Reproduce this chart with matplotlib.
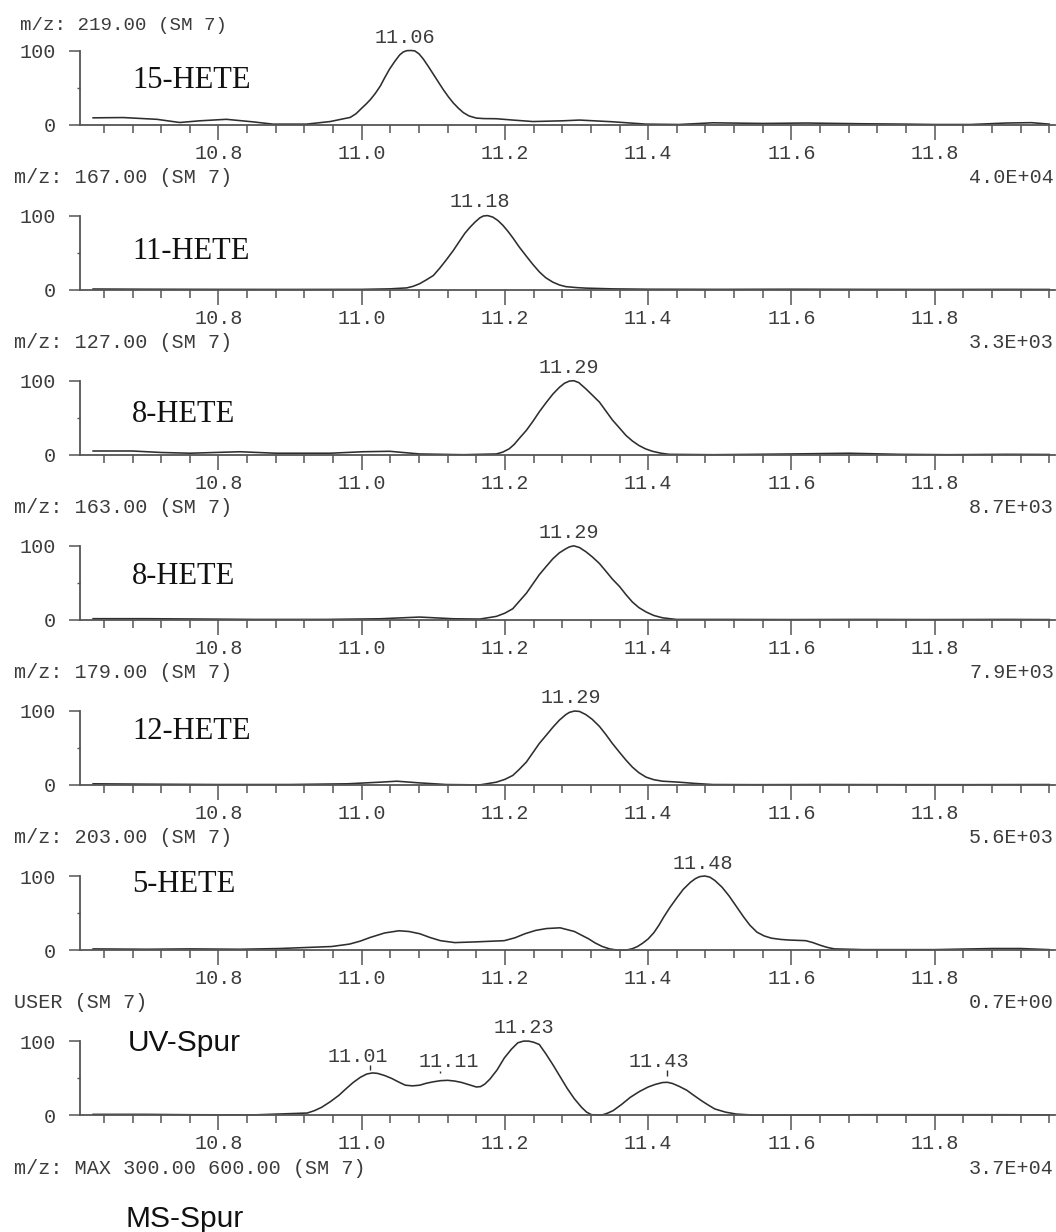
import matplotlib
matplotlib.use("Agg")
import matplotlib.pyplot as plt
from matplotlib.ticker import MultipleLocator, FixedLocator, FormatStrFormatter

# ---------------- data ----------------
headers = ["m/z: 219.00 (SM 7)", "m/z: 167.00 (SM 7)", "m/z: 127.00 (SM 7)",
           "m/z: 163.00 (SM 7)", "m/z: 179.00 (SM 7)", "m/z: 203.00 (SM 7)",
           "USER (SM 7)", "m/z: MAX 300.00 600.00 (SM 7)"]
scales = ["4.0E+04", "3.3E+03", "8.7E+03", "7.9E+03", "5.6E+03", "0.7E+00", "3.7E+04"]
names = ["15-HETE", "11-HETE", "8-HETE", "8-HETE", "12-HETE", "5-HETE", "UV-Spur"]
name_y = [59, 51, 54, 59, 72, 88, 97]

x0 = [10.625, 10.667, 10.714, 10.746, 10.774, 10.811, 10.848, 10.876, 10.923, 10.956, 10.984,
      10.992, 11.0, 11.006, 11.012, 11.019, 11.026, 11.032, 11.039, 11.046, 11.053, 11.058,
      11.063, 11.069, 11.074, 11.08, 11.086, 11.093, 11.1, 11.107, 11.114, 11.121, 11.128,
      11.135, 11.142, 11.15, 11.16, 11.17, 11.188, 11.211, 11.239, 11.281, 11.304, 11.35,
      11.397, 11.443, 11.49, 11.56, 11.62, 11.7, 11.76, 11.8, 11.85, 11.9, 11.935, 11.96]
y0 = [9, 9.4, 7, 2.7, 5, 7, 3.6, 0.5, 0.5, 4, 9.6,
      14.5, 22, 27.5, 33.5, 42, 52, 63, 75, 85, 94, 98,
      99.8, 100, 99.5, 95.5, 88.5, 78.5, 68, 57.5, 47, 37.5, 29,
      22, 16, 11.5, 8.7, 8, 7.8, 6, 4, 5, 6, 3.7,
      0.5, 0, 2.3, 1.4, 2, 1, 0.5, 0, 0, 2, 2.5, 0.5]

x1 = [10.625, 10.7, 10.8, 10.9, 11.0, 11.039, 11.063, 11.072, 11.081, 11.09, 11.1, 11.109,
      11.118, 11.128, 11.137, 11.144, 11.151, 11.158, 11.165, 11.17, 11.176, 11.183, 11.19,
      11.197, 11.204, 11.211, 11.22, 11.23, 11.239, 11.248, 11.257, 11.267, 11.276, 11.285,
      11.3, 11.313, 11.35, 11.4, 11.5, 11.6, 11.7, 11.8, 11.9, 11.96]
y1 = [0.8, 0.5, 0.3, 0.2, 0.3, 1, 2.3, 4.5, 8, 13, 19, 29,
      40, 53, 66, 76, 84, 91, 97, 99.5, 100, 98, 93.5,
      87, 79, 70, 57.5, 45, 34, 24, 16, 10, 6.3, 4,
      2.7, 2, 1, 0.5, 0.3, 0.5, 0.3, 0.2, 0.3, 0.2]

x2 = [10.625, 10.68, 10.72, 10.76, 10.83, 10.88, 10.956, 11.002, 11.039, 11.081, 11.142, 11.188,
      11.197, 11.206, 11.213, 11.22, 11.23, 11.239, 11.248, 11.258, 11.267, 11.276, 11.283,
      11.29, 11.296, 11.303, 11.313, 11.322, 11.332, 11.341, 11.35, 11.36, 11.369, 11.378,
      11.387, 11.396, 11.406, 11.418, 11.429, 11.49, 11.55, 11.6, 11.68, 11.75, 11.82, 11.9,
      11.96]
y2 = [5, 5, 3, 2, 4, 2, 2, 4, 4.6, 1, 0, 1,
      3.5, 8, 14, 22, 33, 45, 58, 71, 82, 91, 96.5,
      99.5, 100, 97.5, 89, 80.5, 71, 59, 47, 36, 26, 18.5,
      12.5, 8, 4.6, 2, 0.5, 0, 0.5, 1, 2, 0.5, 0, 0.5,
      0.3]

x3 = [10.625, 10.7, 10.78, 10.85, 10.95, 11.026, 11.081, 11.128, 11.165, 11.188, 11.2, 11.211,
      11.22, 11.23, 11.239, 11.248, 11.258, 11.267, 11.276, 11.285, 11.29, 11.296, 11.304,
      11.313, 11.322, 11.332, 11.341, 11.35, 11.36, 11.369, 11.378, 11.387, 11.397, 11.408,
      11.42, 11.439, 11.5, 11.6, 11.7, 11.8, 11.9, 11.96]
y3 = [1.5, 1.5, 1, 0.5, 0.5, 1.4, 3.7, 1.4, 1, 4.6, 9, 15,
      25, 36, 48.5, 61, 72.5, 82.6, 90.5, 96, 98.5, 100, 97.7,
      92, 85, 76, 65.6, 55, 45, 34, 24, 16.5, 10.6, 5.8,
      2.7, 0.5, 0.5, 0.3, 0.5, 0.3, 0.5, 0.3]

x4 = [10.625, 10.7, 10.8, 10.9, 10.98, 11.026, 11.049, 11.081, 11.118, 11.165, 11.188, 11.2,
      11.211, 11.22, 11.23, 11.239, 11.248, 11.258, 11.267, 11.276, 11.285, 11.29, 11.297,
      11.304, 11.313, 11.322, 11.332, 11.341, 11.35, 11.36, 11.369, 11.378, 11.387, 11.397,
      11.408, 11.42, 11.443, 11.465, 11.49, 11.55, 11.65, 11.75, 11.85, 11.96]
y4 = [1.5, 1, 0.5, 0.5, 1.5, 3.7, 5, 2.7, 0.5, 0, 3.7, 7.5,
      12.8, 21, 31, 43.5, 56, 67.5, 78, 87.5, 95, 98, 99.8,
      99.3, 95, 88.5, 79, 68, 56, 44, 33.5, 24, 16.5, 10.5,
      7, 5, 3.7, 2, 0.5, 0.3, 0.5, 0.3, 0.3, 0.5]

x5 = [10.625, 10.7, 10.76, 10.83, 10.885, 10.958, 10.983, 10.998, 11.012, 11.032, 11.052, 11.066,
      11.081, 11.095, 11.11, 11.13, 11.16, 11.199, 11.214, 11.228, 11.243, 11.258, 11.277,
      11.297, 11.307, 11.317, 11.326, 11.336, 11.346, 11.356, 11.37, 11.378, 11.385, 11.392,
      11.4, 11.408, 11.415, 11.422, 11.43, 11.44, 11.449, 11.459, 11.466, 11.472, 11.479,
      11.486, 11.493, 11.503, 11.513, 11.523, 11.533, 11.542, 11.552, 11.562, 11.572, 11.585,
      11.596, 11.62, 11.63, 11.64, 11.65, 11.66, 11.7, 11.8, 11.88, 11.92, 11.96]
y5 = [1.5, 1, 1.5, 1, 2, 4.7, 8, 12, 17, 23, 26, 25,
      22, 17, 12.6, 10, 11, 12.6, 16.5, 22, 26.5, 29, 30,
      25, 20, 15, 9.5, 4.7, 1.5, 0, 0, 1.8, 4.7, 9,
      15, 23.5, 33.5, 45, 57, 70.5, 82, 91.5, 96.5, 99.2, 100,
      98.5, 94, 85, 73, 59, 45, 33.5, 24, 19, 16, 14.3,
      13.5, 12.6, 10, 6.5, 3.5, 1.5, 0.5, 0.5, 2, 2, 0.5]

x6 = [10.625, 10.7, 10.76, 10.85, 10.924, 10.934, 10.944, 10.956, 10.968, 10.978, 10.988, 10.998,
      11.007, 11.015, 11.022, 11.032, 11.042, 11.052, 11.061, 11.071, 11.081, 11.09, 11.1,
      11.11, 11.12, 11.13, 11.14, 11.15, 11.16, 11.166, 11.172, 11.179, 11.189, 11.199,
      11.209, 11.218, 11.226, 11.233, 11.24, 11.248, 11.257, 11.267, 11.277, 11.287, 11.297,
      11.307, 11.314, 11.321, 11.336, 11.343, 11.351, 11.363, 11.375, 11.388, 11.4, 11.41,
      11.42, 11.427, 11.434, 11.444, 11.454, 11.464, 11.474, 11.484, 11.493, 11.508, 11.523,
      11.548, 11.6, 11.7, 11.8, 11.9, 11.96]
y6 = [1, 1, 0.5, 0.3, 2.8, 6, 10.5, 18, 26.6, 35.5, 44, 51,
      55.5, 57, 56.4, 53.5, 49.5, 44.5, 40.4, 39.5, 40.4, 43, 45,
      46.5, 47, 46, 44, 41, 38, 38.5, 42, 48.6, 61, 77,
      89, 97.7, 100, 100, 98.5, 95.4, 83, 68, 52, 36, 22,
      10.5, 4, 0.5, 0.3, 2.5, 6, 14.5, 24, 32, 38, 41.5,
      44, 44.3, 42.7, 38.5, 33.5, 26.5, 19.7, 13.5, 8.3, 4, 1.4,
      0, 0, 0.5, 0.5, 0.5, 0.3]

series_x = [x0, x1, x2, x3, x4, x5, x6]
series_y = [y0, y1, y2, y3, y4, y5, y6]

# peak labels: text, x position, y position
peak_text = [["11.06"], ["11.18"], ["11.29"], ["11.29"], ["11.29"], ["11.48"],
             ["11.01", "11.11", "11.23", "11.43"]]
peak_x = [[11.06], [11.165], [11.29], [11.29], [11.292], [11.477],
          [10.995, 11.122, 11.227, 11.415]]
peak_y = [[118], [119], [118.5], [118], [118], [117],
          [79, 72.5, 118, 72.5]]
# small marker ticks above UV peaks
mark_x = [11.011, 11.11, 11.426]
mark_lo = [61, 57, 53]
mark_hi = [68, 60, 61]

x_major = [10.8, 11.0, 11.2, 11.4, 11.6, 11.8]

# ---------------- figure ----------------
W, H = 1056, 1232
fig = plt.figure(figsize=(W / 100, H / 100), dpi=100)
fig.patch.set_facecolor("white")

MONO = ["Liberation Mono", "DejaVu Sans Mono"]
SERIF = ["Liberation Serif", "DejaVu Serif"]
SANS = ["Liberation Sans", "DejaVu Sans"]
TXT = "#3c3c3c"
AX = "#555555"
LINE = "#2e2e2e"
MS = 14.5


def fx(px):
    return px / W


def fy(py):
    return 1 - py / H


left_px, right_px = 79.5, 1055.0
base0, step, hgt = 124.5, 165.1, 74.0

for k in range(7):
    b = base0 + step * k
    ax = fig.add_axes([fx(left_px), fy(b), (right_px - left_px) / W, hgt / H])
    ax.set_xlim(10.606, 11.968)
    ax.set_ylim(0, 100)
    ax.set_facecolor("none")
    for s in ("top", "right"):
        ax.spines[s].set_visible(False)
    for s in ("left", "bottom"):
        ax.spines[s].set_color(AX)
        ax.spines[s].set_linewidth(1.3)
    ax.xaxis.set_major_locator(FixedLocator(x_major))
    ax.xaxis.set_minor_locator(MultipleLocator(0.04))
    ax.xaxis.set_major_formatter(FormatStrFormatter("%.1f"))
    ax.yaxis.set_major_locator(FixedLocator([0, 100]))
    ax.yaxis.set_minor_locator(FixedLocator([50]))
    ax.tick_params(axis="x", which="major", direction="out", length=10.8, width=1.1,
                   color=AX, pad=3, labelsize=MS, labelcolor=TXT)
    ax.tick_params(axis="x", which="minor", direction="out", length=5.8, width=1.1, color=AX)
    ax.tick_params(axis="y", which="major", direction="out", length=8, width=1.1,
                   color=AX, pad=9, labelsize=MS, labelcolor=TXT)
    ax.tick_params(axis="y", which="minor", direction="out", length=2.5, width=1.0, color=AX)
    for lab in ax.get_xticklabels() + ax.get_yticklabels():
        lab.set_family(MONO)

    ax.plot(series_x[k], series_y[k], color=LINE, lw=1.15, clip_on=False,
            solid_joinstyle="round")

    for t, px_, py_ in zip(peak_text[k], peak_x[k], peak_y[k]):
        ax.text(px_, py_, t, ha="center", va="center", fontsize=MS, family=MONO,
                color=TXT, clip_on=False)
    if k == 6:
        ax.vlines(mark_x, mark_lo, mark_hi, color=LINE, lw=1.0, clip_on=False)

    # compound label
    if k < 6:
        fig.text(fx(132), fy(b - name_y[k] / 100 * hgt), names[k], ha="left", va="center",
                 fontsize=22, family=SERIF, color="#111111")
    else:
        fig.text(fx(128), fy(b - name_y[k] / 100 * hgt), names[k], ha="left", va="center",
                 fontsize=21.5, family=SANS, color="#111111")

    # header below panel and scale factor
    fig.text(fx(13.5), fy(b + 53), headers[k + 1], ha="left", va="center",
             fontsize=MS, family=MONO, color=TXT)
    fig.text(fx(1054), fy(b + 53), scales[k], ha="right", va="center",
             fontsize=MS, family=MONO, color=TXT)

# top header
fig.text(fx(20.5), fy(26), headers[0], ha="left", va="center", fontsize=13.8,
         family=MONO, color=TXT)
# MS-Spur label
fig.text(fx(125), fy(1219), "MS-Spur", ha="left", va="center", fontsize=21.5,
         family=SANS, color="#111111")

fig.savefig("out.png", dpi=100, facecolor="white")
